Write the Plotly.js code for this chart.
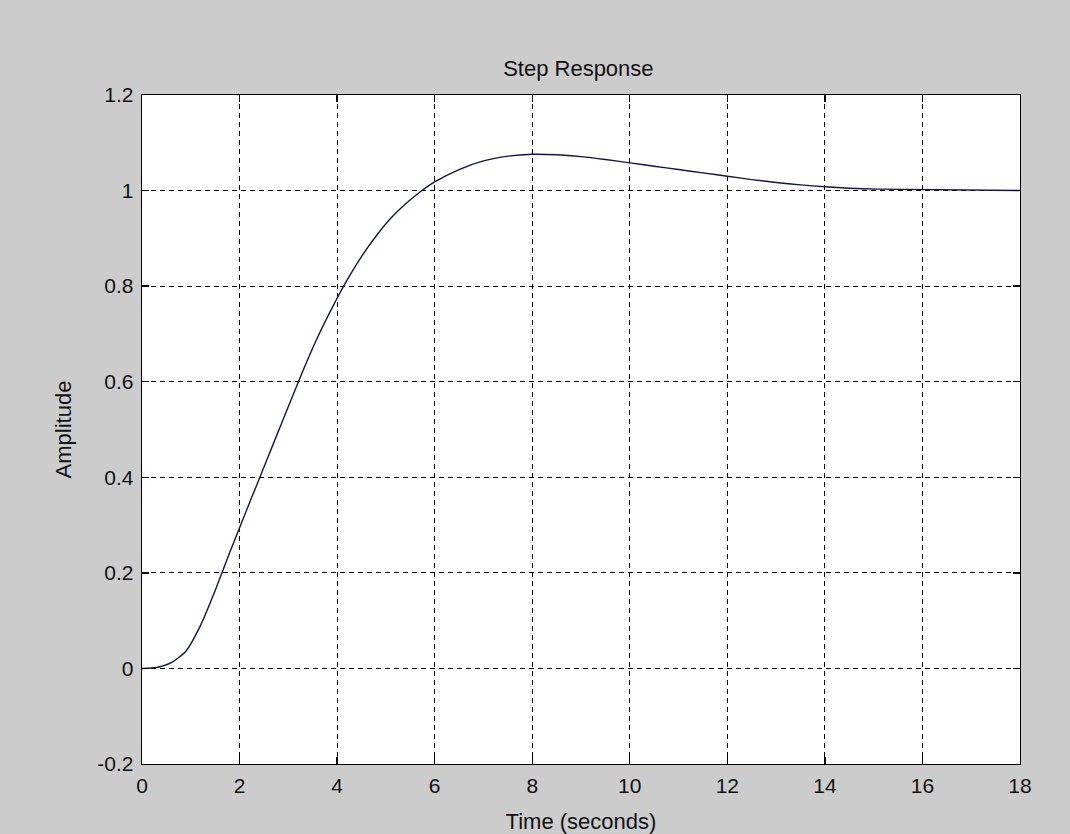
<!DOCTYPE html>
<html>
<head>
<meta charset="utf-8">
<script src="https://cdn.plot.ly/plotly-3.0.1.min.js"></script>
<style>html,body{margin:0;padding:0;background:#cccccc;}#chart{width:1070px;height:834px;}</style>
</head>
<body>
<div id="chart"></div>
<script>
const timeSec = [0, 0.3, 0.6, 0.9, 1.2, 1.5, 1.8, 2.1, 2.4, 2.7, 3.0, 3.3, 3.6, 3.9, 4.2, 4.5, 4.8, 5.1, 5.4, 5.7, 6.0, 6.5, 7.0, 7.5, 8.0, 8.5, 9.0, 9.5, 10, 10.5, 11, 11.5, 12, 12.5, 13, 13.5, 14, 14.5, 15.1, 18];
const amplitude = [0, 0.002, 0.012, 0.036, 0.09, 0.163, 0.243, 0.32, 0.396, 0.472, 0.548, 0.623, 0.693, 0.755, 0.812, 0.862, 0.905, 0.942, 0.972, 0.997, 1.018, 1.044, 1.062, 1.072, 1.076, 1.075, 1.071, 1.065, 1.058, 1.051, 1.044, 1.037, 1.030, 1.023, 1.017, 1.012, 1.008, 1.005, 1.003, 1.0];
const xTickVals = [0, 2, 4, 6, 8, 10, 12, 14, 16, 18];
const xTickText = ['0', '2', '4', '6', '8', '10', '12', '14', '16', '18'];
const yTickVals = [-0.2, 0, 0.2, 0.4, 0.6, 0.8, 1, 1.2];
const yTickText = ['-0.2', '0', '0.2', '0.4', '0.6', '0.8', '1', '1.2'];

const fam = 'Liberation Sans, Arial, sans-serif';
const font = {family: fam, size: 21, color: '#111'};
const axisCommon = {
  showline: true, linecolor: '#000', linewidth: 1.3, mirror: 'ticks',
  ticks: 'inside', ticklen: 7, tickcolor: '#000', tickwidth: 1.3,
  showgrid: true, gridcolor: '#000', gridwidth: 1.2, griddash: '5px,4px',
  zeroline: false, tickfont: font, tickmode: 'array'
};
Plotly.newPlot('chart', [{
  x: timeSec, y: amplitude, type: 'scatter', mode: 'lines',
  line: {color: '#14144a', width: 1.4, shape: 'spline', smoothing: 0.6},
  hoverinfo: 'none'
}], {
  width: 1070, height: 834,
  paper_bgcolor: '#cccccc', plot_bgcolor: '#ffffff',
  margin: {l: 142, r: 50, t: 95, b: 70},
  showlegend: false,
  font: font,
  title: {text: 'Step Response', xref: 'paper', x: 0.497, xanchor: 'center', y: 0.918, yanchor: 'middle', yref: 'container', font: {family: fam, size: 22, color: '#111'}},
  xaxis: Object.assign({}, axisCommon, {range: [0, 18], tickvals: xTickVals, ticktext: xTickText, ticklabelstandoff: 2,
    title: {text: 'Time (seconds)', standoff: 20, font: {family: fam, size: 22, color: '#111'}}}),
  yaxis: Object.assign({}, axisCommon, {range: [-0.2, 1.2], tickvals: yTickVals, ticktext: yTickText, ticklabelstandoff: 3,
    title: {text: 'Amplitude', standoff: 19, font: {family: fam, size: 22, color: '#111'}}})
}, {staticPlot: true});
</script>
</body>
</html>
